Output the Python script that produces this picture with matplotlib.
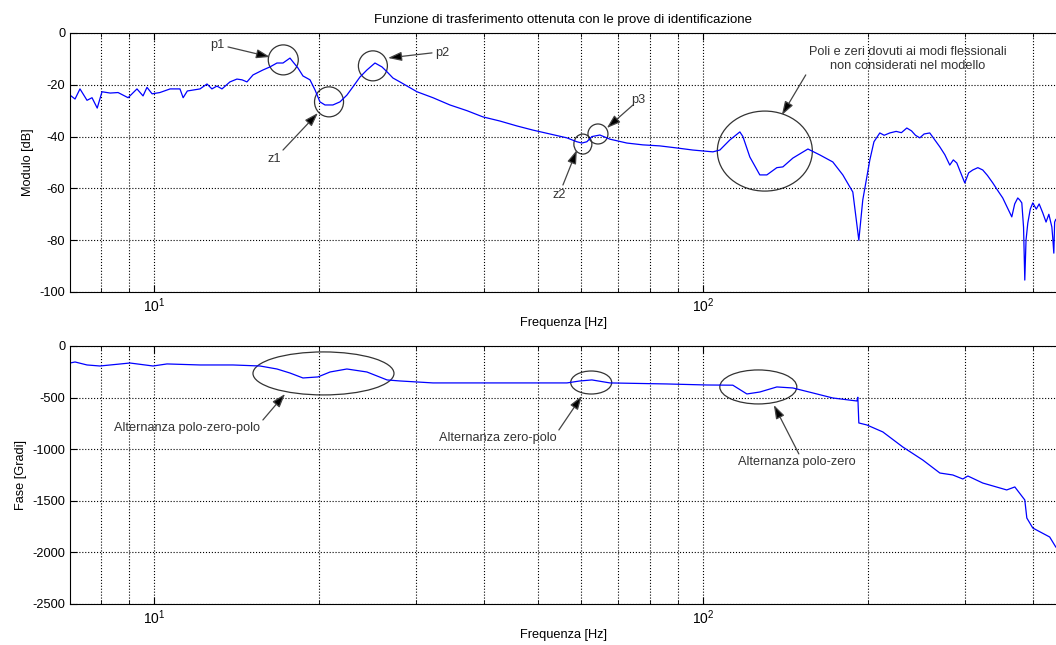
import numpy as np
import matplotlib
matplotlib.use("Agg")
import matplotlib.pyplot as plt
from matplotlib.patches import Ellipse
from matplotlib.transforms import ScaledTranslation

plt.rcParams['font.family'] = ['Liberation Sans', 'DejaVu Sans']
plt.rcParams['font.size'] = 9.2
plt.rcParams['axes.unicode_minus'] = False

# modulo [dB]
freq_mag = [7.03, 7.18, 7.33, 7.55, 7.71, 7.88, 8.04, 8.32, 8.60, 8.97, 9.31, 9.55, 9.71, 9.92,
            10.25, 10.7, 11.15, 11.3, 11.5, 12.13, 12.49, 12.75, 13.02, 13.3, 13.75, 14.16, 14.47,
            14.77, 15.15, 15.79, 16.27, 16.75, 17.18, 17.69, 17.92, 18.29, 18.68, 19.24, 19.65,
            20.06, 20.49, 21.18, 21.82, 22.46, 23.04, 23.73, 24.43, 25.27, 26.02, 26.58, 27.25,
            28.06, 30.14, 32.23, 34.61, 37.17, 39.74, 42.68, 45.84, 49.02, 52.64, 56.54, 58.95,
            60.2, 61.47, 62.78, 64.93, 67.71, 72.71, 77.74, 83.49, 89.68, 95.9, 104.3, 107.4,
            112.0, 116.8, 118.3, 121.8, 127.0, 130.8, 136.4, 139.9, 145.9, 155.4, 163.4, 172.5,
            179.9, 187.6, 192.4, 195.6, 201.5, 205.0, 210.1, 214.0, 219.1, 225.0, 230.0, 235.3,
            240.0, 244.0, 248.5, 253.0, 259.1, 264.0, 270.3, 276.0, 281.8, 286.0, 290.2, 295.0,
            300.1, 305.0, 310.3, 317.0, 323.6, 330.0, 337.5, 345.0, 351.9, 358.0, 365.5, 370.0,
            374.8, 378.0, 381.2, 384.0, 386.0, 388.0, 390.9, 395.0, 399.2, 405.0, 410.0, 416.3,
            422.0, 427.0, 432.4, 434.0, 436.0, 437.5, 439.6]
mag_db = [-24, -25.5, -21.6, -26, -25, -29, -22.7, -23.2, -23, -25, -21.6, -24.3, -21, -23.5,
          -23, -21.6, -21.6, -25, -22.4, -21.6, -19.7, -21.6, -20.5, -21.6, -18.9, -17.8, -18.1,
          -18.9, -16.2, -14.3, -13.1, -11.6, -11.6, -9.7, -11.2, -13.5, -16.6, -18.1, -22,
          -26.6, -27.8, -27.8, -26.6, -24, -20.8, -17, -14.3, -11.6, -13.1, -15, -17.4,
          -18.9, -22.7, -25, -27.8, -30, -32.4, -34, -35.9, -37.5, -39, -40.5, -42,
          -42.5, -42, -40, -39.4, -41, -42.5, -43.2, -43.6, -44.4, -45.2, -45.9, -45.2,
          -41.3, -38.2, -40, -47.9, -54.8, -54.8, -52, -51.7, -48.3, -44.8, -47.1, -49.8,
          -54.8, -61.4, -80, -64.5, -49, -42, -38.6, -39.5, -38.6, -38, -38.5, -36.7,
          -37.8, -39.5, -40.5, -39, -38.6, -41, -44, -47, -51, -49, -50.2, -54,
          -57.9, -54, -52.9, -52, -52.9, -55, -57.9, -61, -63.7, -67, -71, -66,
          -63.7, -64.5, -65.6, -75, -95.4, -80, -73.4, -68, -65.6, -68, -66, -69.5,
          -73, -70, -74.9, -79, -85, -73, -72]

# fase [gradi]
freq_ph = [7.03, 7.18, 7.55, 7.97, 9.04, 9.96, 10.56, 12.13, 13.93, 15.6, 16.75, 17.69, 18.68,
           19.89, 20.93, 22.46, 24.43, 26.58, 28.06, 32.23, 42.68, 56.54, 59.7, 62.78, 67.71,
           86.0, 101.7, 113.4, 120.3, 127.0, 136.4, 145.9, 158.6, 172.5, 190.8, 191.6, 192.4,
           198.9, 212.8, 231.4, 251.6, 270.3, 285.4, 297.6, 304.0, 323.6, 357.8, 370.2, 386.0,
           389.3, 399.2, 428.5, 439.6]
phase_deg = [-165, -155, -184, -194, -165, -194, -174, -184, -184, -194, -223, -262, -310,
             -300, -252, -223, -252, -329, -339, -358, -358, -358, -339, -329, -358,
             -368, -378, -380, -465, -446, -397, -407, -455, -504, -533, -497, -746,
             -765, -833, -979, -1105, -1231, -1250, -1289, -1260, -1328, -1395, -1366, -1492,
             -1667, -1764, -1851, -1948]

fig = plt.figure(figsize=(10.56, 6.45), dpi=100)
ax1 = fig.add_axes([0.0663, 0.5473, 0.9337, 0.4016])
ax2 = fig.add_axes([0.0663, 0.0636, 0.9337, 0.4000])

blue = '#0000ff'
ax1.semilogx(freq_mag, mag_db, color=blue, lw=0.9)
ax2.semilogx(freq_ph, phase_deg, color=blue, lw=0.9)

for ax in (ax1, ax2):
    ax.set_xlim(7.03, 440)
    ax.set_xlabel('Frequenza [Hz]', labelpad=1)
    ax.grid(True, which='major', ls=':', color='k', lw=0.8)
    ax.grid(True, which='minor', axis='x', ls=':', color='k', lw=0.8)
    ax.tick_params(which='both', direction='in', top=True, right=False)
    ax.tick_params(which='major', length=5, labelsize=9.2)
    ax.tick_params(axis='x', which='major', pad=3.5, labelsize=10)
    ax.tick_params(which='minor', length=3)
    ax.spines['right'].set_visible(False)

ax1.set_ylim(-100, 0)
ax1.set_yticks([-100, -80, -60, -40, -20, 0])
ax1.set_ylabel('Modulo [dB]')
ax1.set_title('Funzione di trasferimento ottenuta con le prove di identificazione',
              fontsize=9.5, pad=7)

ax2.set_ylim(-2500, 0)
ax2.set_yticks([-2500, -2000, -1500, -1000, -500, 0])
ax2.set_ylabel('Fase [Gradi]')


def ring(ax, xc, yc, w_px, h_px):
    tr = fig.dpi_scale_trans + ScaledTranslation(xc, yc, ax.transData)
    ax.add_patch(Ellipse((0, 0), w_px / 100, h_px / 100, transform=tr,
                         fill=False, ec='#333333', lw=0.9, clip_on=False))


def freccia(ax, tail, tip):
    ax.annotate('', xy=tip, xytext=tail,
                arrowprops=dict(arrowstyle='-|>,head_length=0.9,head_width=0.3',
                                color='#444444', lw=0.9, shrinkA=0, shrinkB=0,
                                fc='k'))


txt = '#333333'
# cerchi modulo
ring(ax1, 17.2, -10.4, 30, 30)
ring(ax1, 20.84, -26.6, 29, 30)
ring(ax1, 25.05, -12.7, 29, 30)
ring(ax1, 60.45, -42.9, 18, 20)
ring(ax1, 64.4, -39.0, 20, 20)
ring(ax1, 129.7, -45.6, 95, 80)

freccia(ax1, (13.64, -5.4), (16.27, -9.27))
ax1.text(13.02, -4.6, 'p1', ha='center', va='center', color=txt)
freccia(ax1, (17.18, -45.2), (19.89, -30.9))
ax1.text(16.55, -48.6, 'z1', ha='center', va='center', color=txt)
freccia(ax1, (32.1, -7.7), (26.69, -9.65))
ax1.text(33.47, -7.7, 'p2', ha='center', va='center', color=txt)
freccia(ax1, (55.6, -58.7), (58.95, -45.2))
ax1.text(54.66, -62.5, 'z2', ha='center', va='center', color=txt)
freccia(ax1, (74.6, -27.8), (66.85, -36.7))
ax1.text(76.14, -25.9, 'p3', ha='center', va='center', color=txt)
freccia(ax1, (154, -16.2), (139.3, -31.7))
ax1.text(236.3, -10, 'Poli e zeri dovuti ai modi flessionali\nnon considerati nel modello',
         ha='center', va='center', color=txt, linespacing=1.2)

# ellissi fase
ring(ax2, 20.36, -266, 141, 43)
ring(ax2, 62.6, -354, 41, 23)
ring(ax2, 126.2, -397, 77, 34)

freccia(ax2, (15.79, -717), (17.33, -465))
ax2.text(11.48, -795, 'Alternanza polo-zero-polo', ha='center', va='center', color=txt)
freccia(ax2, (54.66, -814), (60.2, -484))
ax2.text(42.33, -891, 'Alternanza zero-polo', ha='center', va='center', color=txt)
freccia(ax2, (149.6, -1046), (134.7, -572))
ax2.text(148.3, -1124, 'Alternanza polo-zero', ha='center', va='center', color=txt)

fig.savefig('out.png', dpi=100)
